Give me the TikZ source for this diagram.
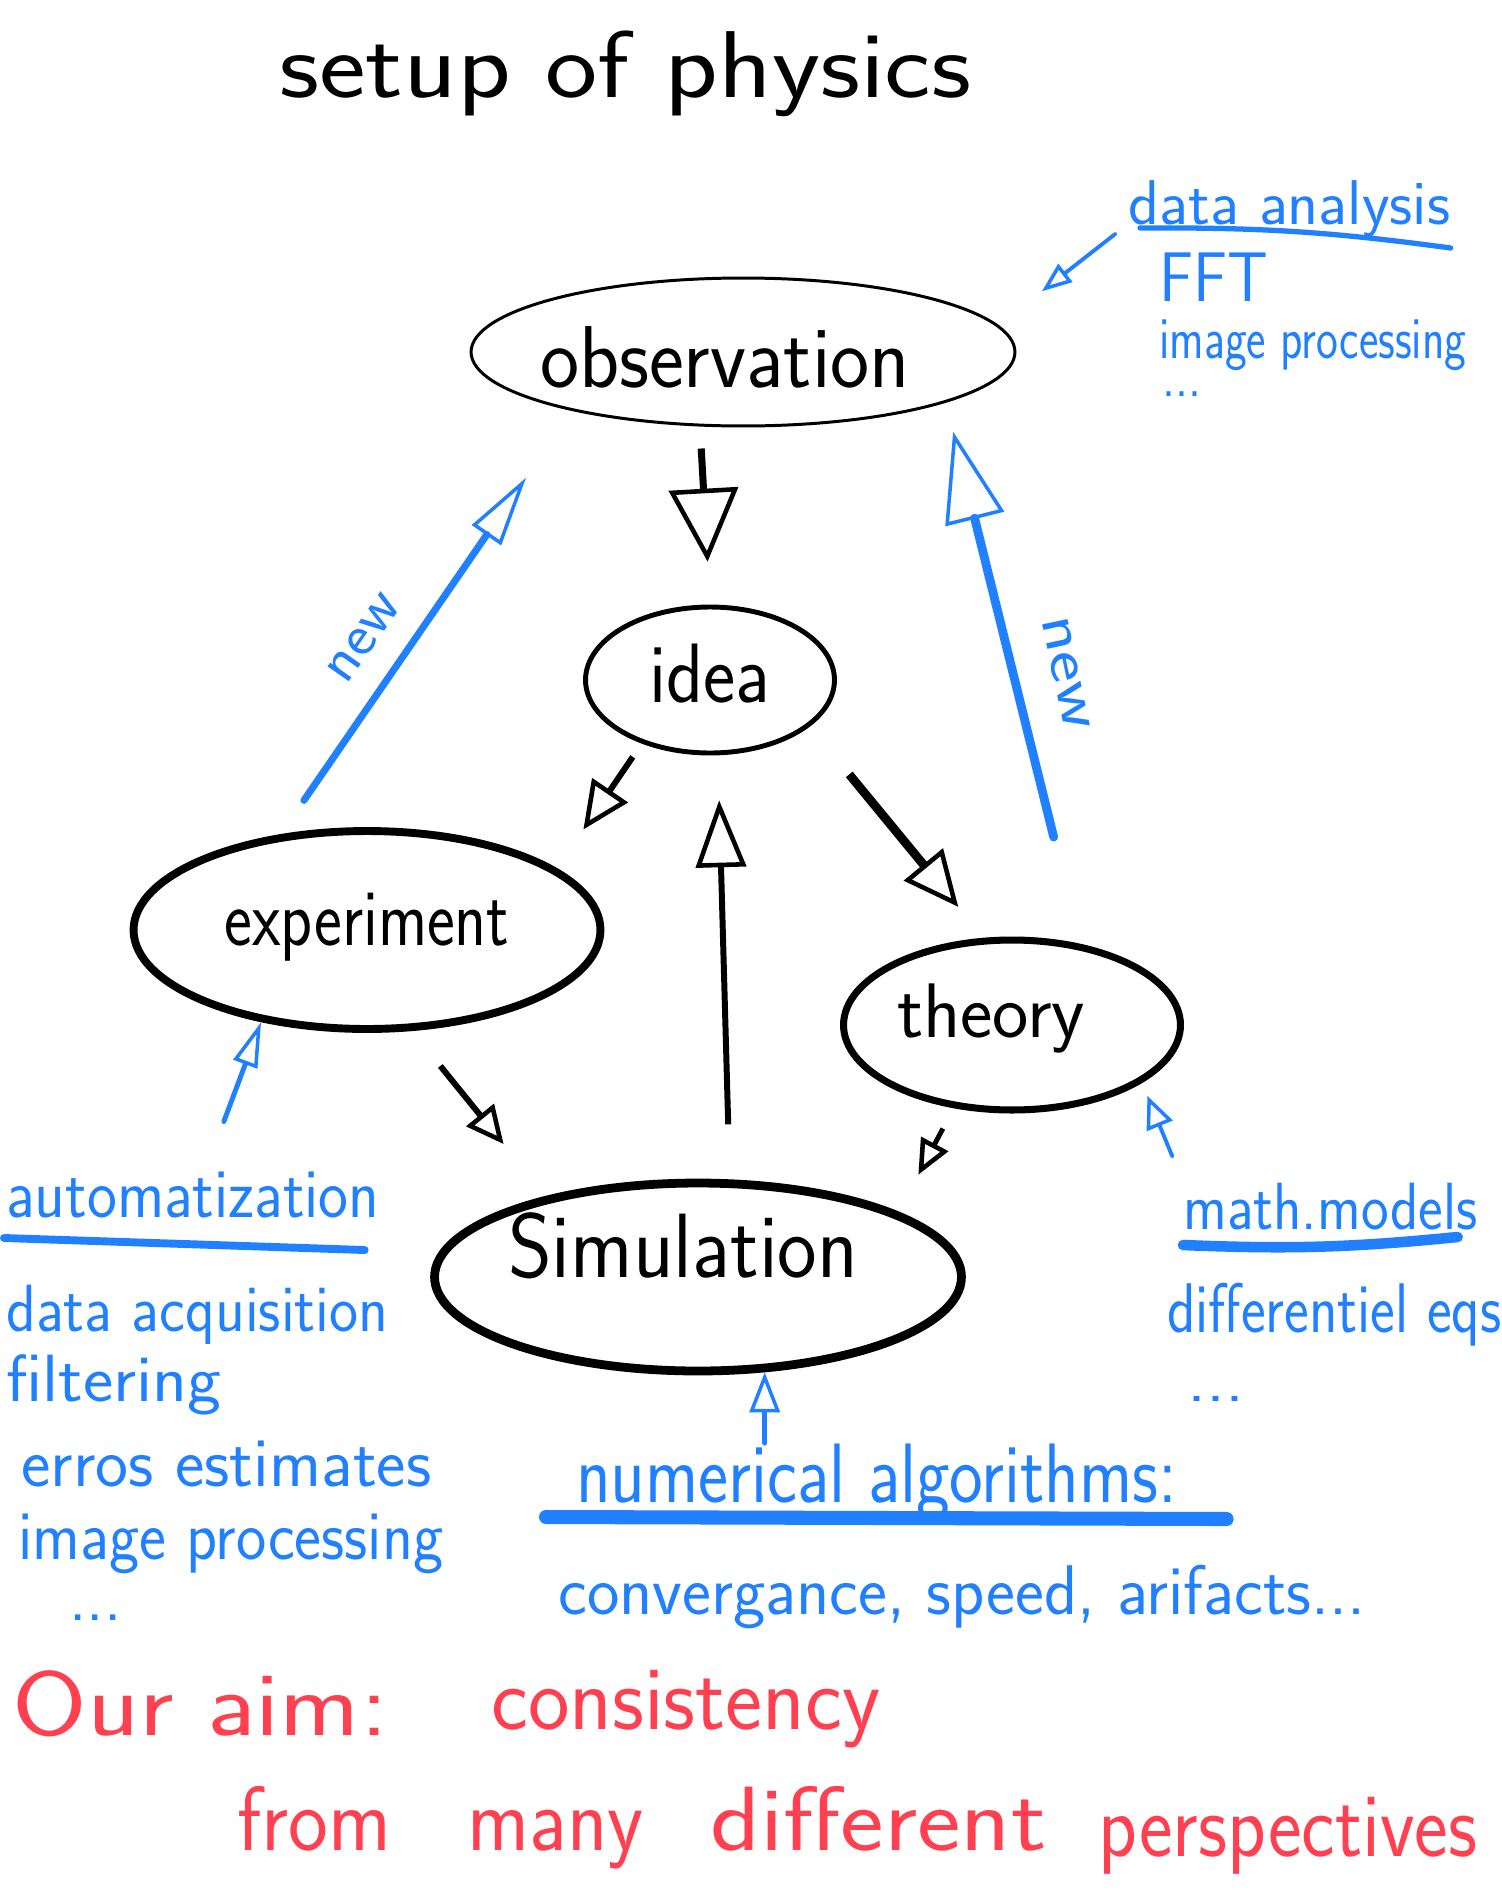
\documentclass[tikz,border=0pt]{standalone}
\usepackage{graphicx}
\usetikzlibrary{arrows.meta,shapes.geometric}
\definecolor{penblue}{RGB}{32,128,255}
\definecolor{penred}{RGB}{255,64,80}
\newcommand{\squeezeto}[2]{\resizebox{#1}{\height}{#2}}
\newcommand{\handfont}[1]{\sffamily\fontsize{#1}{#1}\selectfont}

\begin{document}
\begin{tikzpicture}[
x=0.02cm, y=-0.02cm,
bubble/.style={ellipse, draw, inner sep=0pt, text depth=0pt},
note/.style={anchor=base west, inner sep=0pt, text=penblue},
redtext/.style={anchor=base west, inner sep=0pt, text=penred, font=\handfont{52}},
flow/.style n args={3}{line width=#1, -{Triangle[open, line width=2.6pt, length=#2, width=#3]}},
feed/.style n args={3}{penblue, line width=#1, line cap=round, -{Triangle[open, line width=2pt, length=#2, width=#3]}},
uline/.style={penblue, line width=#1, line cap=round}
]
\path[use as bounding box, fill=white] (0,0) rectangle (1501,1903);

\node[anchor=base west, inner sep=0pt, font=\handfont{54}] (title) at (279,97) {\squeezeto{13.84cm}{setup of physics}};

% the five stations
\node[bubble, line width=1.7pt, minimum width=10.88cm, minimum height=2.96cm, text height=1.44cm, font=\handfont{50}] (obs) at (743,352) {\hspace*{-0.72cm}\squeezeto{7.4cm}{observation}};
\node[bubble, line width=2.8pt, minimum width=4.98cm, minimum height=2.92cm, text height=0.88cm, font=\handfont{48}] (idea) at (710,680) {\squeezeto{2.42cm}{idea}};
\node[bubble, line width=4.5pt, minimum width=9.34cm, minimum height=3.96cm, text height=0.6cm, font=\handfont{46}] (exp) at (367,930) {\squeezeto{5.7cm}{experiment}};
\node[bubble, line width=4pt, minimum width=6.74cm, minimum height=3.4cm, text height=0.48cm, font=\handfont{44}] (theory) at (1012,1025) {\hspace*{-0.84cm}\squeezeto{3.76cm}{theory}};
\node[bubble, line width=5pt, minimum width=10.54cm, minimum height=3.76cm, text height=0pt, font=\handfont{52}] (sim) at (698,1277) {\hspace*{-0.6cm}\squeezeto{7cm}{Simulation}};

% blue notes
\node[note, font=\handfont{36}] (danal) at (1128,224) {\squeezeto{6.44cm}{data analysis}};
\node[note, font=\handfont{40}] (fft) at (1159,301) {\squeezeto{2.18cm}{FFT}};
\node[note, font=\handfont{34}] (imgr) at (1159,358) {\squeezeto{6.14cm}{image processing}};
\node[note, font=\handfont{34}] (dotsr) at (1162,396) {\squeezeto{0.78cm}{...}};

\node[note, font=\handfont{40}] (auto) at (6,1217) {\squeezeto{7.46cm}{automatization}};
\node[note, font=\handfont{38}] (acq) at (6,1331) {\squeezeto{7.64cm}{data acquisition}};
\node[note, font=\handfont{38}] (filt) at (6,1401) {\squeezeto{4.3cm}{filtering}};
\node[note, font=\handfont{40}] (errs) at (21,1486) {\squeezeto{8.2cm}{erros estimates}};
\node[note, font=\handfont{40}] (imgl) at (18,1559) {\squeezeto{8.5cm}{image processing}};
\node[note, font=\handfont{40}] (dotsl) at (69,1620) {\squeezeto{1.04cm}{...}};

\node[note, font=\handfont{48}] (numalg) at (576,1502) {\squeezeto{12.02cm}{numerical algorithms:}};
\node[note, font=\handfont{40}] (conv) at (558,1614) {\squeezeto{16.14cm}{convergance, speed, arifacts...}};

\node[note, font=\handfont{38}] (mm) at (1183,1229) {\squeezeto{5.88cm}{math.models}};
\node[note, font=\handfont{40}] (diffeq) at (1167,1332) {\squeezeto{6.68cm}{differentiel eqs}};
\node[note, font=\handfont{36}] (dotsm) at (1187,1401) {\squeezeto{1.14cm}{...}};

\node[text=penblue, inner sep=0pt, font=\handfont{34}, rotate=55] (newl) at (364,638) {\squeezeto{1.94cm}{new}};
\node[text=penblue, inner sep=0pt, font=\handfont{34}, rotate=-78] (newr) at (1066,673) {\squeezeto{2.3cm}{new}};

% red aim
\node[redtext] (aim) at (12,1735) {\squeezeto{7.52cm}{Our aim:}};
\node[redtext] (consist) at (491,1729) {\squeezeto{7.78cm}{consistency}};
\node[redtext] (from) at (237,1850) {\squeezeto{3.08cm}{from}};
\node[redtext] (many) at (467,1850) {\squeezeto{3.52cm}{many}};
\node[redtext] (differ) at (710,1850) {\squeezeto{6.72cm}{different}};
\node[redtext] (persp) at (1098,1856) {\squeezeto{7.58cm}{perspectives}};

% underlines
\draw[uline=3pt] ([shift={(12,4)}]danal.base west) to[bend left=4] ([shift={(0,24)}]danal.base east);
\draw[uline=4.5pt] ([shift={(-2,21)}]auto.base west) -- ([shift={(-15,33)}]auto.base east);
\draw[uline=8pt] ([shift={(-30,15)}]numalg.base west) -- ([shift={(49,17)}]numalg.base east);
\draw[uline=6pt] ([shift={(0,16)}]mm.base west) to[bend right=4] ([shift={(-20,8)}]mm.base east);

% black arrows
\draw[flow={4pt}{1.46cm}{1.38cm}, shorten <=0.44cm, shorten >=0.86cm] (obs.-120) -- (idea.90);
\draw[flow={3.4pt}{0.95cm}{0.85cm}, shorten <=0.32cm, shorten >=0.94cm] (idea.-137) -- (exp.18);
\draw[flow={5pt}{1.1cm}{1cm}, shorten <=1.24cm, shorten >=0.8cm] (idea.-25) -- (theory.108);
\draw[flow={3.4pt}{1.34cm}{1cm}, shorten <=1.1cm, shorten >=0.9cm] (sim.72) -- (idea.-84);
\draw[flow={3.4pt}{0.75cm}{0.7cm}, shorten <=0.9cm, shorten >=1.34cm] (exp.-66) -- (sim.152);
\draw[flow={2.8pt}{0.7cm}{0.6cm}, shorten <=0.46cm, shorten >=0.84cm] (theory.-125) -- (sim.18);

% blue arrows
\draw[feed={4pt}{1.4cm}{0.7cm}, shorten <=0.82cm, shorten >=1.62cm] (exp.132) -- (obs.-161);
\draw[feed={5pt}{1.8cm}{1.2cm}, shorten <=2.2cm, shorten >=0.6cm] (theory.50) -- (obs.-14);
\draw[feed={2.2pt}{0.6cm}{0.45cm}, shorten <=0.32cm, shorten >=1.1cm] (danal.base west) -- (obs.6);
\draw[feed={2.8pt}{0.9cm}{0.5cm}, shorten <=1.06cm] (auto.62) -- (exp.-139);
\draw[feed={2.2pt}{0.65cm}{0.55cm}, shorten <=0.56cm, shorten >=0.28cm] (mm.north west) -- (theory.-24);
\draw[feed={2.8pt}{0.8cm}{0.6cm}] (numalg.north -| sim.-55) -- (sim.-55);
\end{tikzpicture}
\end{document}
